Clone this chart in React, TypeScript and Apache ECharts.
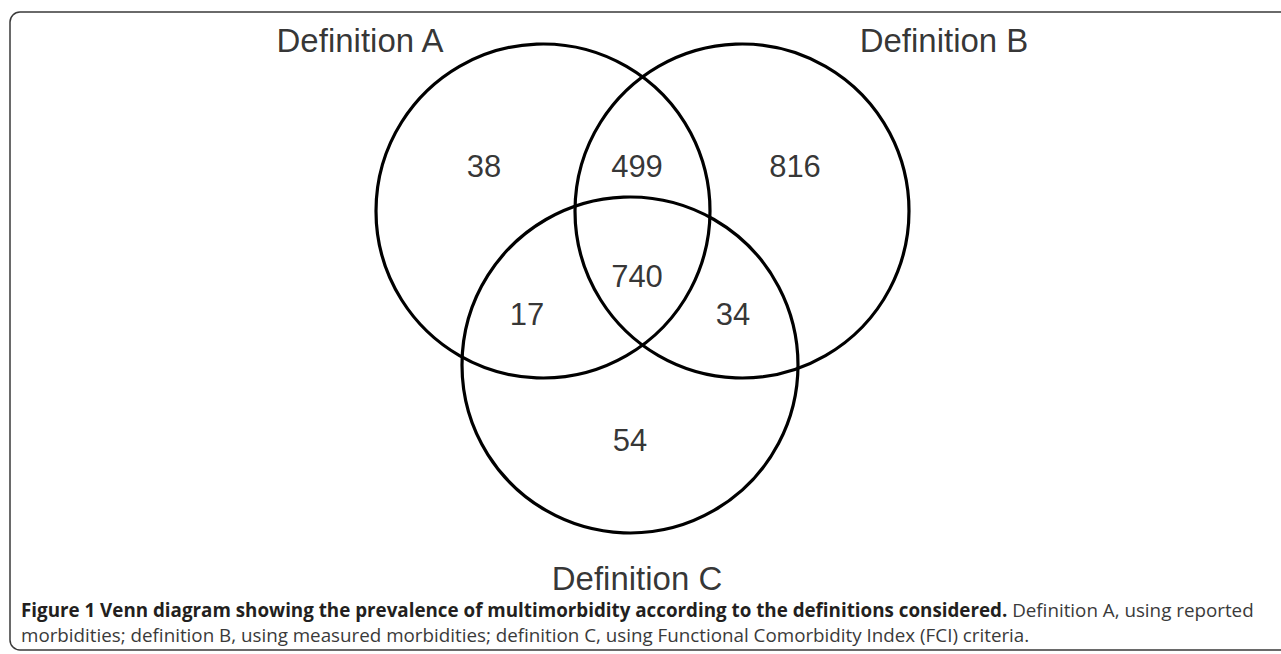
import React, { useEffect, useRef } from "react";
import * as echarts from "echarts";

// ---- data ----
const setNames = ["Definition A", "Definition B", "Definition C"];
const regionNames = ["A only", "A∩B only", "B only", "A∩B∩C", "A∩C only", "B∩C only", "C only"];
const regionCounts = [38, 499, 816, 740, 17, 34, 54];

// ---- layout (pixel-like coordinates on a hidden axis) ----
const circleLayout = [
  [543, 211, 167],
  [742, 211, 167],
  [630, 365, 168],
];
const setLabelPos = [
  [360, 40],
  [944, 40],
  [637, 578],
];
const regionPos = [
  [484, 166],
  [637, 166],
  [795, 166],
  [637, 276],
  [527, 314],
  [733, 314],
  [630, 440],
];

const captionBold =
  "Figure 1 Venn diagram showing the prevalence of multimorbidity according to the definitions considered.";
const captionLine1 = " Definition A, using reported";
const captionLine2 =
  "morbidities; definition B, using measured morbidities; definition C, using Functional Comorbidity Index (FCI) criteria.";

export default function App() {
  const ref = useRef<HTMLDivElement>(null);
  useEffect(() => {
    if (!ref.current) return;
    const chart = echarts.init(ref.current, undefined, { renderer: "svg" });
    chart.setOption({
      animation: false,
      backgroundColor: "#ffffff",
      grid: { left: 0, right: 0, top: 0, bottom: 0 },
      xAxis: { type: "value", min: 0, max: 1281, show: false },
      yAxis: { type: "value", min: 0, max: 654, inverse: true, show: false },
      graphic: [
        {
          type: "rect",
          shape: { x: 10, y: 12, width: 1300, height: 638, r: 10 },
          style: { fill: "none", stroke: "#3a3a3a", lineWidth: 1.5 },
          z: 1,
        },
        {
          type: "text",
          x: 21,
          y: 597,
          style: {
            text:
              "{b|" + captionBold + "}{n|" + captionLine1 + "}\n{n|" + captionLine2 + "}",
            rich: {
              b: {
                fontFamily: "Open Sans",
                fontWeight: "bold",
                fontSize: 18.8,
                fill: "#231f20",
                lineHeight: 25,
              },
              n: {
                fontFamily: "Open Sans",
                fontSize: 18.8,
                fill: "#3a3a3a",
                lineHeight: 25,
              },
            },
          },
        },
      ],
      series: [
        {
          type: "custom",
          name: "sets",
          data: circleLayout,
          renderItem: (params: any, api: any) => {
            const c = api.coord([api.value(0), api.value(1)]);
            const r = api.size([api.value(2), 0])[0];
            return {
              type: "circle",
              shape: { cx: c[0], cy: c[1], r },
              style: { fill: "none", stroke: "#000000", lineWidth: 3.2 },
            };
          },
          silent: true,
        },
        {
          type: "scatter",
          name: "set labels",
          symbolSize: 0,
          data: setNames.map((n, i) => ({ name: n, value: setLabelPos[i] })),
          label: {
            show: true,
            position: "inside",
            formatter: (p: any) => p.name,
            fontFamily: "Liberation Sans",
            fontSize: 33,
            color: "#000000",
          },
          silent: true,
        },
        {
          type: "scatter",
          name: "regions",
          symbolSize: 0,
          data: regionCounts.map((v, i) => ({ name: regionNames[i], value: [...regionPos[i], v] })),
          label: {
            show: true,
            position: "inside",
            formatter: (p: any) => String(p.value[2]),
            fontFamily: "Liberation Sans",
            fontSize: 31,
            color: "#000000",
          },
          silent: true,
        },
      ],
    });
    return () => chart.dispose();
  }, []);
  return (
    <div
      ref={ref}
      style={{ position: "fixed", left: 0, top: 0, width: 1281, height: 654, background: "#fff" }}
    />
  );
}
